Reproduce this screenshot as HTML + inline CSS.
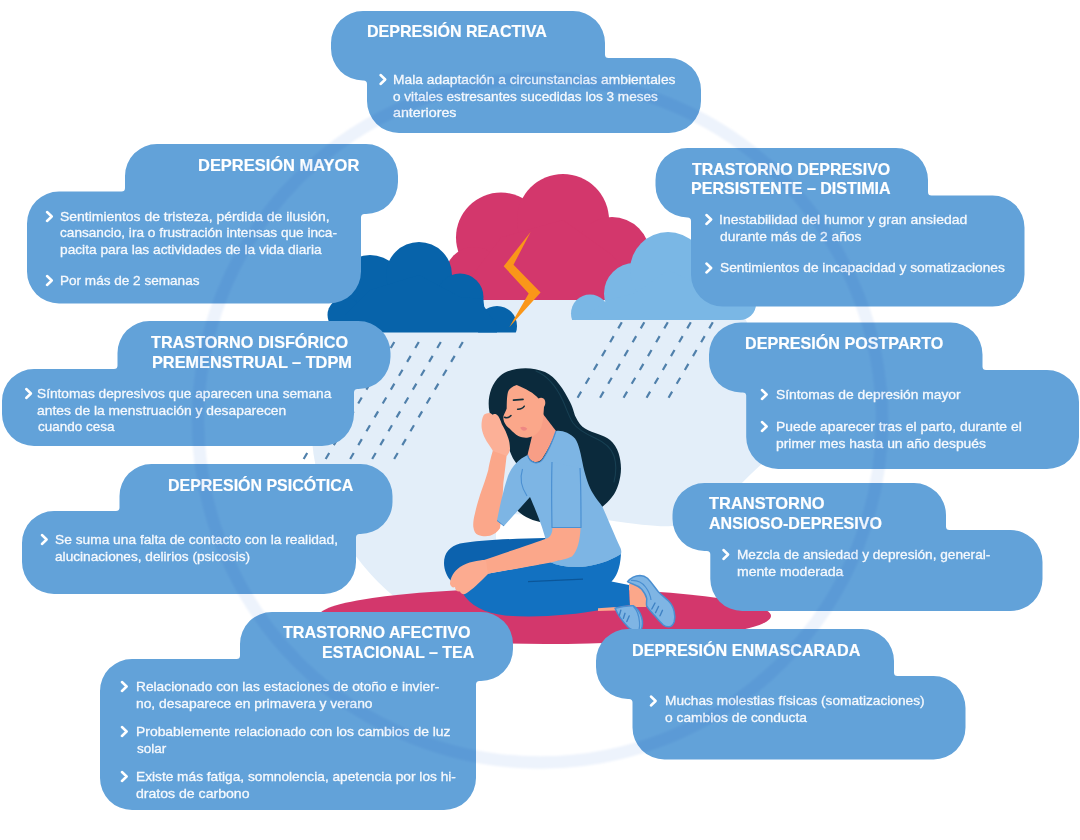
<!DOCTYPE html>
<html lang="es">
<head>
<meta charset="utf-8">
<title>Tipos de depresión</title>
<style>
*{box-sizing:border-box}
html,body{margin:0;padding:0;background:#fff}
body{width:1080px;height:840px;overflow:hidden;font-family:"Liberation Sans",sans-serif}
#stage{position:relative;width:1080px;height:840px;overflow:hidden;background:#fff}
svg{position:absolute;left:0;top:0;display:block}
.card{position:absolute;left:0;top:0;width:1080px;height:840px;margin:0}
.card h2,.card ul,.card li{margin:0;padding:0;list-style:none;font-weight:normal;font-size:0}
.t,.b{position:absolute;white-space:pre;color:#fff;transform-origin:0 0;line-height:1;display:block}
.t{font-size:17px;font-weight:700;height:17px;-webkit-text-stroke:0.2px #fff}
.b{font-size:13.4px;font-weight:400;height:13.4px;color:#f6f9fd;-webkit-text-stroke:0.3px #f6f9fd}
#ring{mix-blend-mode:multiply;pointer-events:none}
</style>
</head>
<body>
<div id="stage">
<svg id="art" width="1080" height="840" viewBox="0 0 1080 840" aria-hidden="true">
  <defs>
    <clipPath id="clipDark"><rect x="300" y="200" width="240" height="132.5"/></clipPath>
    <clipPath id="clipPink"><rect x="430" y="150" width="240" height="150"/></clipPath>
    <clipPath id="clipDisc"><rect x="300" y="298" width="480" height="340"/></clipPath>
    <clipPath id="clipLight"><rect x="560" y="200" width="220" height="120"/></clipPath>
  </defs>
  <!-- pale background disc -->
  <circle cx="540" cy="420" r="229" fill="#e3eef9" clip-path="url(#clipDisc)"/>
  <path d="M496,513 L545,516 L607,520 C640,525 660,527 672,526 C690,525 702,524 712,519 C722,512 728,500 735,491 C744,480 754,471 764,462 L820,462 L820,700 L496,700 Z" fill="#fff"/>

  <!-- rain -->
  <g id="rain" fill="none" stroke="#5080ab" stroke-width="2.2" stroke-linecap="butt" stroke-dasharray="7 9.08">
    <path d="M372.3,342.0 L302.9,460.3"/>
    <path d="M394.3,342.0 L324.9,460.3"/>
    <path d="M418.8,342.0 L349.4,460.3"/>
    <path d="M440.8,342.0 L371.4,460.3"/>
    <path d="M462.8,342.0 L393.4,460.3"/>
    <path d="M621.8,322.3 L576.8,399.0"/>
    <path d="M644.3,322.3 L599.3,399.0"/>
    <path d="M667.8,322.3 L622.8,399.0"/>
    <path d="M690.8,322.3 L645.8,399.0"/>
    <path d="M712.8,322.3 L667.8,399.0"/>
  </g>

  <!-- pink cloud -->
  <g id="cloud-pink" fill="#d3376c" clip-path="url(#clipPink)">
    <circle cx="501" cy="237.5" r="45"/>
    <circle cx="563" cy="220" r="46"/>
    <circle cx="612" cy="255" r="38"/>
    <circle cx="474" cy="276" r="29"/>
    <path d="M472,276 L501,237.5 L563,220 L612,255 L650,300 L445,300 Z"/>
  </g>
  <!-- dark blue cloud -->
  <g id="cloud-dark" fill="#0763aa" clip-path="url(#clipDark)">
    <circle cx="370" cy="290" r="35"/>
    <circle cx="419" cy="275" r="33"/>
    <circle cx="460" cy="297" r="23.5"/>
    <circle cx="497" cy="326" r="20"/>
    <circle cx="345" cy="315" r="17.5"/>
    <path d="M345,315 L370,290 L419,275 L460,297 L483.3,299 L484.2,306.5 L497,326 L497,333 L345,333 Z"/>
  </g>
  <!-- light blue cloud -->
  <g id="cloud-light" fill="#7ab7e5" clip-path="url(#clipLight)">
    <circle cx="590" cy="313.5" r="19"/>
    <circle cx="634.5" cy="293.5" r="30.5"/>
    <circle cx="668" cy="270" r="38"/>
    <circle cx="740" cy="304" r="16"/>
    <path d="M590,313.5 L608,300 L634.5,293.5 L668,270 L740,304 L740,320 L590,320 Z"/>
  </g>
  <!-- lightning -->
  <path id="bolt" d="M530.6,231.9 L503.7,266.2 L528.7,293.5 L509.4,326.9 L540.6,292.5 L513.5,264.7 Z" fill="#fa9619"/>

  <!-- floor -->
  <ellipse cx="545" cy="616" rx="226" ry="28" fill="#d3376c"/>

  <!-- woman -->
  <g id="woman">
    <!-- hair back -->
    <path d="M489.5,412 C487,400 490,385 500,376 C510,367.5 530,365.5 545,372 C556,377 564,390 570,402 C574,410 574,414 575.7,417 C578,422 581,426 585,428.6 C589,431.5 594,432.5 598.6,434.3 C603,436 607,437.5 610,440 C614,443.5 617,448 618.6,453.3 C620,458 621,463 621,468.6 C621,474 620,479 618.6,483.8 C617,489 615,493.5 612,497 C609,501 606,504 602.4,506.7 L560,515 L540,522 C530,520 521,515 516,509 L517,464 C513,460 510,452 508,446 L495,432 Z" fill="#0b2a3c"/>
    <path d="M536,371 C548,376 557,388 563,401 C567,410 569,417 573,423 C578,430 586,434 595,438 C604,442 611,447 614,456 C616.5,464 616,474 614,482" fill="none" stroke="#173f52" stroke-width="1.1" stroke-linecap="round"/>
    <!-- raised forearm + hand -->
    <path d="M493,450 C490,460 488.5,468 488.3,470 C486,478 483.5,485 481.7,490 C479,498 476.5,506 475,513.3 C473.5,519 473,523 473.3,526.7 C473.8,531 475.5,534 478.3,535 C482,536.5 486.5,536.5 490,535.8 C494,534.5 497.5,532 500,528.3 C501.5,520 502.5,500 503.3,483.3 C504.5,474 505.5,466 506.7,455 Z" fill="#fba78a"/>
    <path d="M483.5,415.5 C481.5,419.5 481.3,424.5 481.7,428.3 C482.3,432 483.5,435.5 485,438.3 C487,442.5 490.5,446.5 493,451 L506.9,456 C509,453 510.2,450.5 510,448.3 C509.8,444.5 509.3,441 508.3,438.3 C506.8,433.5 504.5,428.5 502,424.5 C500.5,420.5 499,416 496.5,414.6 C495,413.8 493.5,414 492.5,414.8 C491,413 489.3,412.8 488.3,413.3 C486.3,413 484.5,414 483.5,415.5 Z" fill="#fcb097"/>
    <!-- neck -->
    <path d="M533,432 L527.5,455 C530,463 538,464 542,459 C548,450 553,440 556,431 L543,414 Z" fill="#f89e86"/>
    <!-- face -->
    <path d="M516.7,385 C512,386.5 509,389 508,392 C506.8,396 506.8,404 506.7,408.5 C505.5,412 503.5,415 503.3,417 C503.2,419 503.6,420.5 504.2,422 C505.5,425 507.5,427 510,429 C513,432 515.5,434.5 518.3,436 C521.5,437.5 525,438 528.3,437.5 C531,437 533.5,436 535,435 C537.5,433 539.5,431 540.8,428.3 C542.3,424.5 543,420.5 543.3,416.7 L544,407 C545.8,405 545.8,400 543.5,398.5 C542,397.5 540,397.6 538.5,398.5 C534,393 526,389 516.7,385 Z" fill="#fba78a"/>
    <!-- face details -->
    <path d="M513.5,400.2 L523,399.3" stroke="#12303c" stroke-width="1.7" stroke-linecap="round" fill="none"/>
    <path d="M517.6,409.3 C520.5,409.4 523,408.2 524.3,406.2" stroke="#12303c" stroke-width="1.5" stroke-linecap="round" fill="none"/>
    <path d="M504.4,417.3 C506.8,418.3 509.5,417.4 511,415.6" stroke="#12303c" stroke-width="1.5" stroke-linecap="round" fill="none"/>
    <path d="M520.2,427.5 C522.5,426 525.5,426.5 527.3,428.8 C525.5,431.5 522,431.5 520.2,427.5 Z" fill="#ef8783"/>
    <!-- shirt torso -->
    <path d="M527.5,455 C530,464 539,465 543,459 C549,450 553,440 556,431 C562,430 570,433 575,438.5 C579,444 581,455 583.3,466.7 C586,478 589,487 593,493.5 C596,499 600,503 602.4,506.7 C607,517 615,536 620,547 C621.5,550 621.5,552 621,554 C610,561 595,566 580,567 C568,567.5 558,566 550,562 L545,537 C543,530 540,520 530,497 L504,526 L497,520.5 C500,505 504,488 508,476 C512,466 519,459 527.5,455 Z" fill="#7db5e4"/>
    <!-- shirt lines -->
    <path d="M527.5,455 C530,464 539,465 543,459 C549,450 553,440 556,431" fill="none" stroke="#4b90d2" stroke-width="1.2"/>
    <path d="M522.5,469 C520,477 521,487 527,496" fill="none" stroke="#4b90d2" stroke-width="1.1"/>
    <path d="M497,520.5 L504,526" fill="none" stroke="#4b90d2" stroke-width="1"/>
    <!-- front sleeve -->
    <path d="M552,462 C551.5,480 551.6,505 552,527.5 L581,527.5 C581,505 581,485 580,468" fill="#7db5e4" stroke="#4b90d2" stroke-width="1.2" stroke-linejoin="round"/>
    <!-- pants far leg (darker) -->
    <path d="M444,563 C444,553 450,546 460,543.5 C480,540 515,538.5 545,538 L560,560 L470,575 L452,582 C447,577 444,570 444,563 Z" fill="#0c62ae"/>
    <!-- pants near leg -->
    <path d="M462,592 C470,606 485,613 505,615.5 C535,618 575,615 600,610 L630,605 L629,585 L611.5,581.5 C616,577 620,570 621,554 C610,561 595,566 580,567 C568,567.5 558,566 550,562 L486,574 Z" fill="#1271c1"/>
    <path d="M528,581.7 L583,579.2" stroke="#0b5699" stroke-width="1.3" fill="none"/>
    <!-- front arm -->
    <path d="M552.5,528 L580.5,528 C580,540 578,550 572,556.5 C560,562 530,566 487,574 L481,561 C510,551 535,543 548,538 C551,536 552.5,532 552.5,528 Z" fill="#fba78a"/>
    <!-- hand on knee -->
    <path d="M486,560 C478,560 468,562 460,567 C454,571 450,578 450,584 C451,587 453,588 455,587 C455,590 457,592 460,591.5 C461,594 464,595 466,593.5 C472,590 480,582 488,574 Z" fill="#fcab90"/>
    <!-- ankle -->
    <path d="M629,584 C635,583 641,586 645,592 C647.5,597 647.5,603 646,607 L630,607 Z" fill="#fba78a"/>
    <path d="M598,608.3 L616,607 L616,610.6 L598,611 Z" fill="#fba78a"/>
    <!-- shoes -->
    <path d="M615,608.3 C621,606.5 628,605.5 633.5,605.8 C637,608 640,612 641.5,617 C643,622 642.5,627 641,630 C636,631 631,630 628,627 C623,622 618,615 615,608.3 Z" fill="#7fb5e4" stroke="#4a8fd1" stroke-width="1.5" stroke-linejoin="round"/>
    <path d="M633.5,606.5 C637,610 639,616 639.5,622 C639.8,625 639.5,628 639,630" fill="none" stroke="#4a8fd1" stroke-width="1.2"/>
    <path d="M627.5,581.7 C631,577.5 636,575.5 640,575.4 C643,575.4 645.5,576.5 647.5,578.3 C651,582 654.5,587 658.3,591.7 C662,595.5 665.5,598 668.3,600.8 C671.5,604 673.5,608 674.2,611.7 C675,615 675,619 674.2,621.7 C673,625 671.5,626.5 669.2,626.7 C667,627 665,626.3 663.3,625 C660,622 657,618.5 654.2,615 C651.5,612 648.5,609 646.7,605.8 C646,603 647,600.5 646.7,598.3 C646,595 644,592 641.7,589.2 C639,586.5 636,585 633.3,584.2 C631,583.5 629,582.8 627.5,581.7 Z" fill="#7fb5e4" stroke="#4a8fd1" stroke-width="1.5" stroke-linejoin="round"/>
    <path d="M631,580.5 C637,580 642,582.5 645.5,587 C649,591.5 650.5,596 651,600" fill="none" stroke="#4a8fd1" stroke-width="1.2"/>
    <g stroke="#3f82c4" stroke-width="1.4" fill="none" stroke-linecap="round">
      <path d="M655,603 L651.8,609"/><path d="M658.5,606.5 L655.5,612.7"/><path d="M662.5,610.3 L660,615.8"/>
      <path d="M620.8,610.2 L619.3,615.6"/><path d="M625,613.3 L623.4,618.3"/><path d="M629.2,616 L626.8,621.5"/>
    </g>
  </g>
</svg>

<section class="card" id="reactiva"><svg width="1080" height="840" viewBox="0 0 1080 840" aria-hidden="true"><path class="box" d="M363.00,11.00H573.00A32.00,32.00 0 0 1 605.00,43.00V80.50L605.00,80.50H363.00A32.00,32.00 0 0 1 331.00,48.50V43.00A32.00,32.00 0 0 1 363.00,11.00ZM367.00,58.00H669.00A32.00,32.00 0 0 1 701.00,90.00V101.00A32.00,32.00 0 0 1 669.00,133.00H399.00A32.00,32.00 0 0 1 367.00,101.00V58.00L367.00,58.00ZM605.00,54.50A3.5,3.5 0 0 0 608.50,58.00H605.00ZM363.50,80.50A3.5,3.5 0 0 1 367.00,84.00V80.50Z" fill="#62a2d9"/><path class="chev" d="M380.55 75.00L385.25 79.50L380.55 84.00" fill="none" stroke="#fff" stroke-width="2.5" stroke-linecap="round" stroke-linejoin="round"/></svg><h2><span class="t" style="left:366.56px;top:23.41px;transform:scaleX(0.9444)">DEPRESIÓN REACTIVA</span></h2><ul><li><span class="b" style="left:392.67px;top:72.66px;transform:scaleX(1.0313)">Mala adaptación a circunstancias ambientales</span><span class="b" style="left:392.89px;top:89.66px;transform:scaleX(1.0138)">o vitales estresantes sucedidas los 3 meses</span><span class="b" style="left:392.87px;top:106.36px;transform:scaleX(1.0655)">anteriores</span></li></ul></section>
<section class="card" id="mayor"><svg width="1080" height="840" viewBox="0 0 1080 840" aria-hidden="true"><path class="box" d="M157.00,144.00H366.00A32.00,32.00 0 0 1 398.00,176.00V182.00A32.00,32.00 0 0 1 366.00,214.00H125.00L125.00,214.00V176.00A32.00,32.00 0 0 1 157.00,144.00ZM59.00,191.50H361.00L361.00,191.50V271.50A32.00,32.00 0 0 1 329.00,303.50H59.00A32.00,32.00 0 0 1 27.00,271.50V223.50A32.00,32.00 0 0 1 59.00,191.50ZM125.00,188.00A3.5,3.5 0 0 1 121.50,191.50H125.00ZM364.50,214.00A3.5,3.5 0 0 0 361.00,217.50V214.00Z" fill="#62a2d9"/><path class="chev" d="M47.05 212.00L51.75 216.50L47.05 221.00M47.05 276.00L51.75 280.50L47.05 285.00" fill="none" stroke="#fff" stroke-width="2.5" stroke-linecap="round" stroke-linejoin="round"/></svg><h2><span class="t" style="left:198.03px;top:156.91px;transform:scaleX(0.9682)">DEPRESIÓN MAYOR</span></h2><ul><li><span class="b" style="left:60.48px;top:209.66px;transform:scaleX(1.0408)">Sentimientos de tristeza, pérdida de ilusión,</span><span class="b" style="left:60.49px;top:226.46px;transform:scaleX(1.0166)">cansancio, ira o frustración intensas que inca-</span><span class="b" style="left:60.23px;top:243.36px;transform:scaleX(1.0245)">pacita para las actividades de la vida diaria</span></li><li><span class="b" style="left:59.99px;top:273.66px;transform:scaleX(1.0128)">Por más de 2 semanas</span></li></ul></section>
<section class="card" id="tdpm"><svg width="1080" height="840" viewBox="0 0 1080 840" aria-hidden="true"><path class="box" d="M149.50,321.00H358.50A32.00,32.00 0 0 1 390.50,353.00V357.00A32.00,32.00 0 0 1 358.50,389.00H117.50L117.50,389.00V353.00A32.00,32.00 0 0 1 149.50,321.00ZM34.00,369.00H354.00L354.00,369.00V414.00A32.00,32.00 0 0 1 322.00,446.00H34.00A32.00,32.00 0 0 1 2.00,414.00V401.00A32.00,32.00 0 0 1 34.00,369.00ZM117.50,365.50A3.5,3.5 0 0 1 114.00,369.00H117.50ZM357.50,389.00A3.5,3.5 0 0 0 354.00,392.50V389.00Z" fill="#62a2d9"/><path class="chev" d="M26.25 389.00L30.95 393.50L26.25 398.00" fill="none" stroke="#fff" stroke-width="2.5" stroke-linecap="round" stroke-linejoin="round"/></svg><h2><span class="t" style="left:151.00px;top:333.61px;transform:scaleX(0.9539)">TRASTORNO DISFÓRICO</span><span class="t" style="left:152.04px;top:353.61px;transform:scaleX(0.9588)">PREMENSTRUAL – TDPM</span></h2><ul><li><span class="b" style="left:37.49px;top:386.66px;transform:scaleX(1.0217)">Síntomas depresivos que aparecen una semana</span><span class="b" style="left:37.48px;top:403.66px;transform:scaleX(1.0333)">antes de la menstruación y desaparecen</span><span class="b" style="left:37.50px;top:420.36px;transform:scaleX(1.0066)">cuando cesa</span></li></ul></section>
<section class="card" id="psicotica"><svg width="1080" height="840" viewBox="0 0 1080 840" aria-hidden="true"><path class="box" d="M151.50,464.00H360.50A32.00,32.00 0 0 1 392.50,496.00V502.00A32.00,32.00 0 0 1 360.50,534.00H119.50L119.50,534.00V496.00A32.00,32.00 0 0 1 151.50,464.00ZM54.00,511.00H356.00L356.00,511.00V562.00A32.00,32.00 0 0 1 324.00,594.00H54.00A32.00,32.00 0 0 1 22.00,562.00V543.00A32.00,32.00 0 0 1 54.00,511.00ZM119.50,507.50A3.5,3.5 0 0 1 116.00,511.00H119.50ZM359.50,534.00A3.5,3.5 0 0 0 356.00,537.50V534.00Z" fill="#62a2d9"/><path class="chev" d="M41.95 535.00L46.65 539.50L41.95 544.00" fill="none" stroke="#fff" stroke-width="2.5" stroke-linecap="round" stroke-linejoin="round"/></svg><h2><span class="t" style="left:168.06px;top:476.91px;transform:scaleX(0.9388)">DEPRESIÓN PSICÓTICA</span></h2><ul><li><span class="b" style="left:55.49px;top:532.66px;transform:scaleX(1.0274)">Se suma una falta de contacto con la realidad,</span><span class="b" style="left:55.49px;top:549.66px;transform:scaleX(1.0197)">alucinaciones, delirios (psicosis)</span></li></ul></section>
<section class="card" id="tea"><svg width="1080" height="840" viewBox="0 0 1080 840" aria-hidden="true"><path class="box" d="M272.00,612.00H481.00A32.00,32.00 0 0 1 513.00,644.00V649.00A32.00,32.00 0 0 1 481.00,681.00H240.00L240.00,681.00V644.00A32.00,32.00 0 0 1 272.00,612.00ZM132.00,659.00H476.00L476.00,659.00V778.00A32.00,32.00 0 0 1 444.00,810.00H132.00A32.00,32.00 0 0 1 100.00,778.00V691.00A32.00,32.00 0 0 1 132.00,659.00ZM240.00,655.50A3.5,3.5 0 0 1 236.50,659.00H240.00ZM479.50,681.00A3.5,3.5 0 0 0 476.00,684.50V681.00Z" fill="#62a2d9"/><path class="chev" d="M121.95 682.00L126.65 686.50L121.95 691.00M121.95 727.00L126.65 731.50L121.95 736.00M121.95 772.00L126.65 776.50L121.95 781.00" fill="none" stroke="#fff" stroke-width="2.5" stroke-linecap="round" stroke-linejoin="round"/></svg><h2><span class="t" style="left:283.00px;top:623.61px;transform:scaleX(0.9504)">TRASTORNO AFECTIVO</span><span class="t" style="left:322.06px;top:643.61px;transform:scaleX(0.9408)">ESTACIONAL – TEA</span></h2><ul><li><span class="b" style="left:135.97px;top:679.66px;transform:scaleX(1.0263)">Relacionado con las estaciones de otoño e invier-</span><span class="b" style="left:136.23px;top:696.96px;transform:scaleX(1.0318)">no, desaparece en primavera y verano</span></li><li><span class="b" style="left:135.96px;top:724.66px;transform:scaleX(1.0381)">Probablemente relacionado con los cambios de luz</span><span class="b" style="left:136.75px;top:741.66px;transform:scaleX(1.0087)">solar</span></li><li><span class="b" style="left:135.98px;top:769.66px;transform:scaleX(1.0233)">Existe más fatiga, somnolencia, apetencia por los hi-</span><span class="b" style="left:136.47px;top:786.66px;transform:scaleX(1.0514)">dratos de carbono</span></li></ul></section>
<section class="card" id="distimia"><svg width="1080" height="840" viewBox="0 0 1080 840" aria-hidden="true"><path class="box" d="M687.50,148.00H896.00A32.00,32.00 0 0 1 928.00,180.00V217.50L928.00,217.50H687.50A32.00,32.00 0 0 1 655.50,185.50V180.00A32.00,32.00 0 0 1 687.50,148.00ZM691.00,195.50H992.50A32.00,32.00 0 0 1 1024.50,227.50V274.60A32.00,32.00 0 0 1 992.50,306.60H723.00A32.00,32.00 0 0 1 691.00,274.60V195.50L691.00,195.50ZM928.00,192.00A3.5,3.5 0 0 0 931.50,195.50H928.00ZM687.50,217.50A3.5,3.5 0 0 1 691.00,221.00V217.50Z" fill="#62a2d9"/><path class="chev" d="M706.45 215.00L711.15 219.50L706.45 224.00M706.45 263.50L711.15 268.00L706.45 272.50" fill="none" stroke="#fff" stroke-width="2.5" stroke-linecap="round" stroke-linejoin="round"/></svg><h2><span class="t" style="left:691.60px;top:160.61px;transform:scaleX(0.9381)">TRASTORNO DEPRESIVO</span><span class="t" style="left:690.66px;top:180.11px;transform:scaleX(0.9436)">PERSISTENTE – DISTIMIA</span></h2><ul><li><span class="b" style="left:719.45px;top:212.66px;transform:scaleX(1.0456)">Inestabilidad del humor y gran ansiedad</span><span class="b" style="left:719.78px;top:229.66px;transform:scaleX(1.0327)">durante más de 2 años</span></li><li><span class="b" style="left:719.79px;top:261.16px;transform:scaleX(1.0260)">Sentimientos de incapacidad y somatizaciones</span></li></ul></section>
<section class="card" id="postparto"><svg width="1080" height="840" viewBox="0 0 1080 840" aria-hidden="true"><path class="box" d="M741.00,322.50H950.50A32.00,32.00 0 0 1 982.50,354.50V392.50L982.50,392.50H741.00A32.00,32.00 0 0 1 709.00,360.50V354.50A32.00,32.00 0 0 1 741.00,322.50ZM746.20,370.00H1047.00A32.00,32.00 0 0 1 1079.00,402.00V437.00A32.00,32.00 0 0 1 1047.00,469.00H778.20A32.00,32.00 0 0 1 746.20,437.00V370.00L746.20,370.00ZM982.50,366.50A3.5,3.5 0 0 0 986.00,370.00H982.50ZM742.70,392.50A3.5,3.5 0 0 1 746.20,396.00V392.50Z" fill="#62a2d9"/><path class="chev" d="M761.95 390.00L766.65 394.50L761.95 399.00M761.95 422.00L766.65 426.50L761.95 431.00" fill="none" stroke="#fff" stroke-width="2.5" stroke-linecap="round" stroke-linejoin="round"/></svg><h2><span class="t" style="left:745.25px;top:334.61px;transform:scaleX(0.9484)">DEPRESIÓN POSTPARTO</span></h2><ul><li><span class="b" style="left:776.48px;top:387.66px;transform:scaleX(1.0337)">Síntomas de depresión mayor</span></li><li><span class="b" style="left:775.96px;top:419.66px;transform:scaleX(1.0383)">Puede aparecer tras el parto, durante el</span><span class="b" style="left:776.22px;top:436.66px;transform:scaleX(1.0372)">primer mes hasta un año después</span></li></ul></section>
<section class="card" id="ansioso"><svg width="1080" height="840" viewBox="0 0 1080 840" aria-hidden="true"><path class="box" d="M704.50,483.00H914.00A32.00,32.00 0 0 1 946.00,515.00V551.00L946.00,551.00H704.50A32.00,32.00 0 0 1 672.50,519.00V515.00A32.00,32.00 0 0 1 704.50,483.00ZM710.30,530.00H1010.50A32.00,32.00 0 0 1 1042.50,562.00V579.00A32.00,32.00 0 0 1 1010.50,611.00H742.30A32.00,32.00 0 0 1 710.30,579.00V530.00L710.30,530.00ZM946.00,526.50A3.5,3.5 0 0 0 949.50,530.00H946.00ZM706.80,551.00A3.5,3.5 0 0 1 710.30,554.50V551.00Z" fill="#62a2d9"/><path class="chev" d="M723.45 550.00L728.15 554.50L723.45 559.00" fill="none" stroke="#fff" stroke-width="2.5" stroke-linecap="round" stroke-linejoin="round"/></svg><h2><span class="t" style="left:709.00px;top:494.61px;transform:scaleX(0.9664)">TRANSTORNO</span><span class="t" style="left:708.53px;top:514.61px;transform:scaleX(0.9438)">ANSIOSO-DEPRESIVO</span></h2><ul><li><span class="b" style="left:736.58px;top:547.66px;transform:scaleX(1.0188)">Mezcla de ansiedad y depresión, general-</span><span class="b" style="left:736.61px;top:564.66px;transform:scaleX(1.0507)">mente moderada</span></li></ul></section>
<section class="card" id="enmascarada"><svg width="1080" height="840" viewBox="0 0 1080 840" aria-hidden="true"><path class="box" d="M628.00,629.00H862.00A32.00,32.00 0 0 1 894.00,661.00V699.00L894.00,699.00H628.00A32.00,32.00 0 0 1 596.00,667.00V661.00A32.00,32.00 0 0 1 628.00,629.00ZM632.50,676.00H933.50A32.00,32.00 0 0 1 965.50,708.00V727.50A32.00,32.00 0 0 1 933.50,759.50H664.50A32.00,32.00 0 0 1 632.50,727.50V676.00L632.50,676.00ZM894.00,672.50A3.5,3.5 0 0 0 897.50,676.00H894.00ZM629.00,699.00A3.5,3.5 0 0 1 632.50,702.50V699.00Z" fill="#62a2d9"/><path class="chev" d="M650.95 696.50L655.65 701.00L650.95 705.50" fill="none" stroke="#fff" stroke-width="2.5" stroke-linecap="round" stroke-linejoin="round"/></svg><h2><span class="t" style="left:631.55px;top:641.61px;transform:scaleX(0.9518)">DEPRESIÓN ENMASCARADA</span></h2><ul><li><span class="b" style="left:664.98px;top:694.16px;transform:scaleX(1.0228)">Muchas molestias físicas (somatizaciones)</span><span class="b" style="left:665.48px;top:711.16px;transform:scaleX(1.0310)">o cambios de conducta</span></li></ul></section>
<svg id="ring" width="1080" height="840" viewBox="0 0 1080 840" aria-hidden="true"><defs><filter id="soft" x="-5%" y="-5%" width="110%" height="110%"><feGaussianBlur stdDeviation="1.3"/></filter></defs><circle cx="540" cy="420.5" r="342" fill="none" stroke="#edf3fc" stroke-width="12.5" filter="url(#soft)"/></svg>
</div>
</body>
</html>
